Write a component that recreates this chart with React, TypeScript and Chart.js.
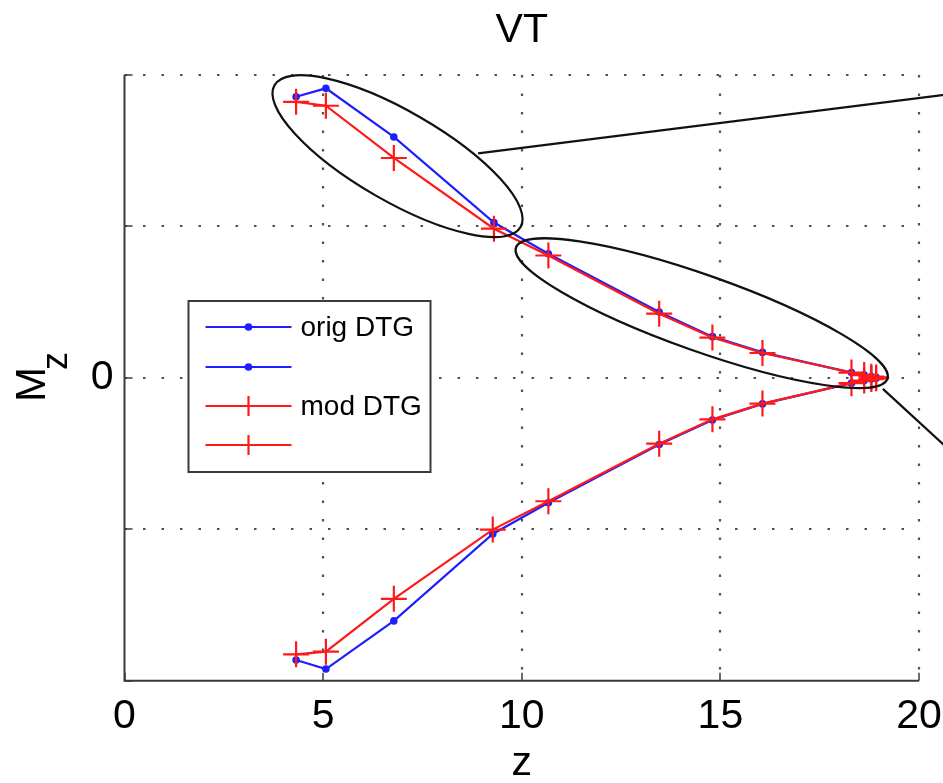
import React, { useEffect, useRef } from "react";
import { Chart, registerables } from "chart.js";

Chart.register(...registerables);

// ---- data ----
const Z_UPPER = [4.32, 5.07, 6.78, 9.3, 10.67, 13.46, 14.8, 16.06, 18.3, 18.62, 18.8, 18.92];
const ORIG_UPPER = [1.856, 1.912, 1.591, 1.026, 0.82, 0.435, 0.272, 0.168, 0.035, 0.018, 0.008, 0.003];
const MOD_UPPER = [1.823, 1.797, 1.452, 0.985, 0.808, 0.424, 0.266, 0.164, 0.035, 0.018, 0.008, 0.003];
const Z_LOWER = [4.32, 5.07, 6.78, 9.27, 10.67, 13.46, 14.8, 16.06, 18.3, 18.62, 18.8, 18.92];
const ORIG_LOWER = [-1.863, -1.923, -1.605, -1.031, -0.825, -0.44, -0.278, -0.172, -0.035, -0.018, -0.008, -0.003];
const MOD_LOWER = [-1.826, -1.808, -1.459, -1.002, -0.815, -0.435, -0.274, -0.17, -0.035, -0.018, -0.008, -0.003];
const LABELS = ["orig DTG", "", "mod DTG", ""];
const X_TICKS = [0, 5, 10, 15, 20];
const Y_TICKS = [-2, -1, 0, 1, 2];
const Y_TICK_LABELS = ["", "", "0", "", ""];
const TITLE = "VT";
const X_TITLE = "z";

// ---- annotation geometry (ellipses: centre in data units, radii in px, angle deg) ----
const ELLIPSES = [
  { cx: 6.873, cy: 1.464, rx: 142, ry: 45, angle: 30 },
  { cx: 14.53, cy: 0.427, rx: 197, ry: 38, angle: 19.5 },
];
const CONNECTORS = [
  { x1: 8.9, y1: 1.483, x2: 22.04, y2: 1.915 },
  { x1: 19.09, y1: -0.073, x2: 22.04, y2: -0.783 },
];

const BLUE = "rgb(30,30,255)";
const RED = "rgb(255,25,25)";
const FONT = "'Liberation Sans', Arial, sans-serif";

const pts = (xs: number[], ys: number[]) => xs.map((x, i) => ({ x, y: ys[i] }));

const decor = {
  id: "decor",
  beforeDatasetsDraw(chart: any) {
    const { ctx, chartArea: a, scales } = chart;
    const x = scales.x, y = scales.y;
    ctx.save();
    ctx.strokeStyle = "rgba(50,50,50,0.85)";
    ctx.lineWidth = 2.2;
    ctx.setLineDash([2.5, 16]);
    X_TICKS.forEach((v) => {
      if (v === X_TICKS[0]) return;
      const px = Math.round(x.getPixelForValue(v));
      ctx.beginPath(); ctx.moveTo(px, a.top); ctx.lineTo(px, a.bottom); ctx.stroke();
    });
    Y_TICKS.forEach((v) => {
      if (v === Y_TICKS[0]) return;
      const py = Math.round(y.getPixelForValue(v));
      ctx.beginPath(); ctx.moveTo(a.left, py); ctx.lineTo(a.right, py); ctx.stroke();
    });
    ctx.setLineDash([]);
    ctx.strokeStyle = "#3a3a3a";
    ctx.lineWidth = 2;
    ctx.beginPath();
    ctx.moveTo(a.left, a.top); ctx.lineTo(a.left, a.bottom); ctx.lineTo(a.right, a.bottom);
    ctx.stroke();
    // inner tick marks
    ctx.lineWidth = 1.5;
    X_TICKS.forEach((v) => {
      const px = Math.round(x.getPixelForValue(v));
      ctx.beginPath(); ctx.moveTo(px, a.bottom); ctx.lineTo(px, a.bottom - 8); ctx.stroke();
    });
    Y_TICKS.forEach((v) => {
      const py = Math.round(y.getPixelForValue(v));
      ctx.beginPath(); ctx.moveTo(a.left, py); ctx.lineTo(a.left + 8, py); ctx.stroke();
    });
    ctx.restore();
  },
  afterDatasetsDraw(chart: any) {
    const { ctx, chartArea: a, scales } = chart;
    const x = scales.x, y = scales.y;
    ctx.save();
    ctx.strokeStyle = "#111";
    ctx.lineWidth = 2.2;
    ELLIPSES.forEach((e) => {
      ctx.beginPath();
      ctx.ellipse(x.getPixelForValue(e.cx), y.getPixelForValue(e.cy), e.rx, e.ry, (e.angle * Math.PI) / 180, 0, Math.PI * 2);
      ctx.stroke();
    });
    CONNECTORS.forEach((c) => {
      ctx.beginPath();
      ctx.moveTo(x.getPixelForValue(c.x1), y.getPixelForValue(c.y1));
      ctx.lineTo(x.getPixelForValue(c.x2), y.getPixelForValue(c.y2));
      ctx.stroke();
    });

    // legend
    const L = { left: a.left + 64, top: 301, w: 242, h: 171 };
    ctx.fillStyle = "#fff";
    ctx.fillRect(L.left, L.top, L.w, L.h);
    ctx.strokeStyle = "#3a3a3a";
    ctx.lineWidth = 2;
    ctx.strokeRect(L.left, L.top, L.w, L.h);
    const rows = [26, 66, 105, 144];
    chart.data.datasets.forEach((ds: any, i: number) => {
      const yy = L.top + rows[i];
      const x0 = L.left + 17, x1 = L.left + 103, xm = L.left + 60;
      ctx.strokeStyle = ds.borderColor;
      ctx.lineWidth = 2.2;
      ctx.beginPath(); ctx.moveTo(x0, yy); ctx.lineTo(x1, yy); ctx.stroke();
      if (ds.pointStyle === "cross") {
        ctx.beginPath();
        ctx.moveTo(xm, yy - 10); ctx.lineTo(xm, yy + 10);
        ctx.moveTo(xm - 10, yy); ctx.lineTo(xm + 10, yy);
        ctx.stroke();
      } else {
        ctx.fillStyle = ds.borderColor;
        ctx.beginPath(); ctx.arc(xm, yy, 3.8, 0, Math.PI * 2); ctx.fill();
      }
      if (ds.label) {
        ctx.fillStyle = "#000";
        ctx.font = `28px ${FONT}`;
        ctx.textAlign = "left";
        ctx.textBaseline = "middle";
        ctx.fillText(ds.label, L.left + 112, yy + 1);
      }
    });
    ctx.restore();
  },
  afterDraw(chart: any) {
    const { ctx, chartArea: a } = chart;
    ctx.save();
    ctx.fillStyle = "#000";
    ctx.font = `41px ${FONT}`;
    ctx.textAlign = "center";
    ctx.textBaseline = "alphabetic";
    ctx.fillText(TITLE, (a.left + a.right) / 2, 42);
    ctx.fillText(X_TITLE, (a.left + a.right) / 2, 775);
    // y title: M with subscript z
    ctx.translate(45, 402);
    ctx.rotate(-Math.PI / 2);
    ctx.textAlign = "left";
    ctx.font = `42px ${FONT}`;
    ctx.fillText("M", 0, 0);
    ctx.font = `36px ${FONT}`;
    ctx.fillText("z", 32, 22);
    ctx.restore();
  },
};

export default function App() {
  const ref = useRef<HTMLCanvasElement>(null);
  useEffect(() => {
    if (!ref.current) return;
    const chart = new Chart(ref.current, {
      type: "line",
      data: {
        datasets: [
          { label: LABELS[0], data: pts(Z_UPPER, ORIG_UPPER), borderColor: BLUE, backgroundColor: BLUE, pointStyle: "circle", pointRadius: 3.8, pointBorderWidth: 0, borderWidth: 2.2, order: 1 },
          { label: LABELS[1], data: pts(Z_LOWER, ORIG_LOWER), borderColor: BLUE, backgroundColor: BLUE, pointStyle: "circle", pointRadius: 3.8, pointBorderWidth: 0, borderWidth: 2.2, order: 1 },
          { label: LABELS[2], data: pts(Z_UPPER, MOD_UPPER), borderColor: RED, backgroundColor: RED, pointStyle: "cross", pointRadius: 13, pointBorderWidth: 2.2, borderWidth: 2.2, order: 0 },
          { label: LABELS[3], data: pts(Z_LOWER, MOD_LOWER), borderColor: RED, backgroundColor: RED, pointStyle: "cross", pointRadius: 13, pointBorderWidth: 2.2, borderWidth: 2.2, order: 0 },
        ],
      },
      options: {
        responsive: false,
        animation: false,
        layout: { padding: { top: 75, right: 81, left: 0, bottom: 0 } },
        plugins: { legend: { display: false }, tooltip: { enabled: false }, title: { display: false } },
        elements: { line: { tension: 0 } },
        scales: {
          x: {
            type: "linear",
            min: 0,
            max: 20,
            afterFit: (s: any) => { s.height = 102.3; },
            afterBuildTicks: (s: any) => { s.ticks = X_TICKS.map((v) => ({ value: v })); },
            ticks: { font: { size: 41, family: FONT }, color: "#000", padding: 11, maxRotation: 0, autoSkip: false },
            grid: { display: false, drawTicks: false },
            border: { display: false },
          },
          y: {
            type: "linear",
            min: -2,
            max: 2,
            afterFit: (s: any) => { s.width = 124.5; },
            afterBuildTicks: (s: any) => { s.ticks = Y_TICKS.map((v) => ({ value: v })); },
            ticks: {
              font: { size: 41, family: FONT },
              color: "#000",
              padding: 11,
              autoSkip: false,
              callback: (v: any) => Y_TICK_LABELS[Y_TICKS.indexOf(Number(v))] ?? "",
            },
            grid: { display: false, drawTicks: false },
            border: { display: false },
          },
        },
      },
      plugins: [decor],
    });
    return () => chart.destroy();
  }, []);
  return (
    <div style={{ position: "fixed", left: 0, top: 0, width: 943, height: 783, overflow: "hidden", background: "#fff" }}>
      <canvas ref={ref} width={1000} height={783} style={{ display: "block" }} />
    </div>
  );
}
